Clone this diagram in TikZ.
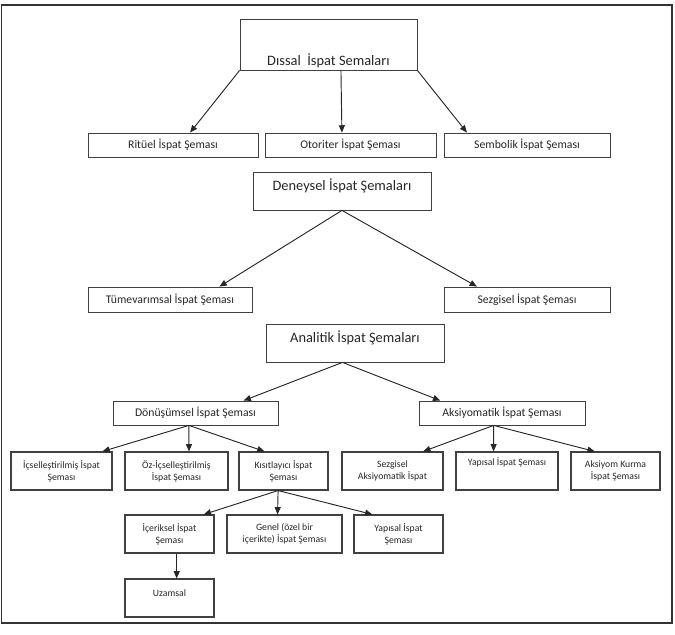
\documentclass[tikz,border=0pt]{standalone}
\usepackage{fontspec}
\setmainfont{Carlito}
\usetikzlibrary{arrows.meta,calc}

\begin{document}
\begin{tikzpicture}[x=0.75pt,y=-0.75pt,
  box/.style={draw=black!75, line width=0.6pt, rectangle, inner xsep=1pt, inner ysep=0pt, align=center, text=black!85},
  bigbox/.style={box, font=\fontsize{10.8}{12}\selectfont},
  midbox/.style={box, font=\fontsize{8.8}{10}\selectfont, minimum height=18pt},
  smallbox/.style={box, line width=0.8pt, font=\fontsize{7.3}{9}\selectfont, minimum height=28.5pt},
  arr/.style={draw=black!85, line width=0.7pt, -{Triangle[length=5.5pt,width=4.5pt]}}]
\useasboundingbox (0,0) rectangle (675,635);
\draw[black!80, line width=1.4pt] (1.5,5) rectangle (672,623);

% dissal
\node[bigbox, minimum width=132.75pt, text height=34.5pt, text depth=3.75pt] (dissal) at (328.5,44.5) {Dıssal\ \ İspat Semaları};
\node[midbox, minimum width=127.5pt] (ritual) at (173,145) {Ritüel İspat Şeması};
\node[midbox, minimum width=128.25pt] (otorite) at (350.5,145) {Otoriter İspat Şeması};
\node[midbox, minimum width=124.5pt] (sembol) at (527,145) {Sembolik İspat Şeması};

% deneysel
\node[bigbox, minimum width=133.5pt, text height=13.5pt, text depth=15pt] (deney) at (342,191) {Deneysel İspat Şemaları};
\node[midbox, minimum width=123pt, minimum height=18.75pt] (tumevar) at (170,299.5) {Tümevarımsal İspat Şeması};
\node[midbox, minimum width=124.5pt, minimum height=18.75pt] (sezgi) at (527,299.5) {Sezgisel İspat Şeması};

% analitik
\node[bigbox, minimum width=133.5pt, text height=13.5pt, text depth=15pt] (analitik) at (355,343) {Analitik İspat Şemaları};
\node[midbox, minimum width=123.75pt] (donusum) at (195.5,413) {Dönüşümsel İspat Şeması};
\node[midbox, minimum width=124.5pt] (aksiyom) at (502,413) {Aksiyomatik İspat Şeması};

\node[smallbox, minimum width=75.75pt] (icsel) at (61.5,471) {İçselleştirilmiş İspat\\Şeması};
\node[smallbox, minimum width=77.25pt] (ozicsel) at (176.5,471) {Öz-İçselleştirilmiş\\İspat Şeması};
\node[smallbox, minimum width=66.75pt] (kisit) at (283.5,471) {Kısıtlayıcı İspat\\Şeması};
\node[smallbox, minimum width=75.75pt] (sezaks) at (392.5,471) {Sezgisel\\Aksiyomatik İspat};
\node[smallbox, minimum height=0pt, minimum width=76.5pt, text height=9.75pt, text depth=18.75pt] (yapi) at (507,471) {Yapısal İspat Şeması};
\node[smallbox, minimum width=66.75pt] (akskur) at (615.5,471) {Aksiyom Kurma\\İspat Şeması};

\node[smallbox, minimum width=66.75pt] (icerik) at (169.5,534) {İçeriksel İspat\\Şeması};
\node[smallbox, minimum width=86.25pt] (genel) at (284.5,534) {Genel (özel bir\\içerikte) İspat Şeması};
\node[smallbox, minimum width=66.75pt] (yapisal) at (398.5,534) {Yapısal İspat\\Şeması};
\node[smallbox, minimum height=0pt, minimum width=66.75pt, text height=12.75pt, text depth=15.75pt] (uzam) at (169.5,598) {Uzamsal};

% arrows: parent/point on bottom edge/child/point on top edge
\foreach \a/\fa/\b/\fb in {dissal/0/ritual/0.6, dissal/0.57/otorite/0.45, dissal/1/sembol/0.14,
    deney/0.5/tumevar/0.8, deney/0.5/sezgi/0.2,
    analitik/0.43/donusum/0.79, analitik/0.43/aksiyom/0.13,
    donusum/0.46/icsel/0.9, donusum/0.46/ozicsel/0.62, donusum/0.46/kisit/0.29,
    aksiyom/0.45/sezaks/0.8, aksiyom/0.45/yapi/0.37, aksiyom/0.45/akskur/0.27,
    kisit/0.44/icerik/0.88, kisit/0.44/genel/0.44, kisit/0.44/yapisal/0.21,
    icerik/0.58/uzam/0.58}
  \draw[arr] ($(\a.south west)!\fa!(\a.south east)$) -- ($(\b.north west)!\fb!(\b.north east)$);
\end{tikzpicture}
\end{document}
